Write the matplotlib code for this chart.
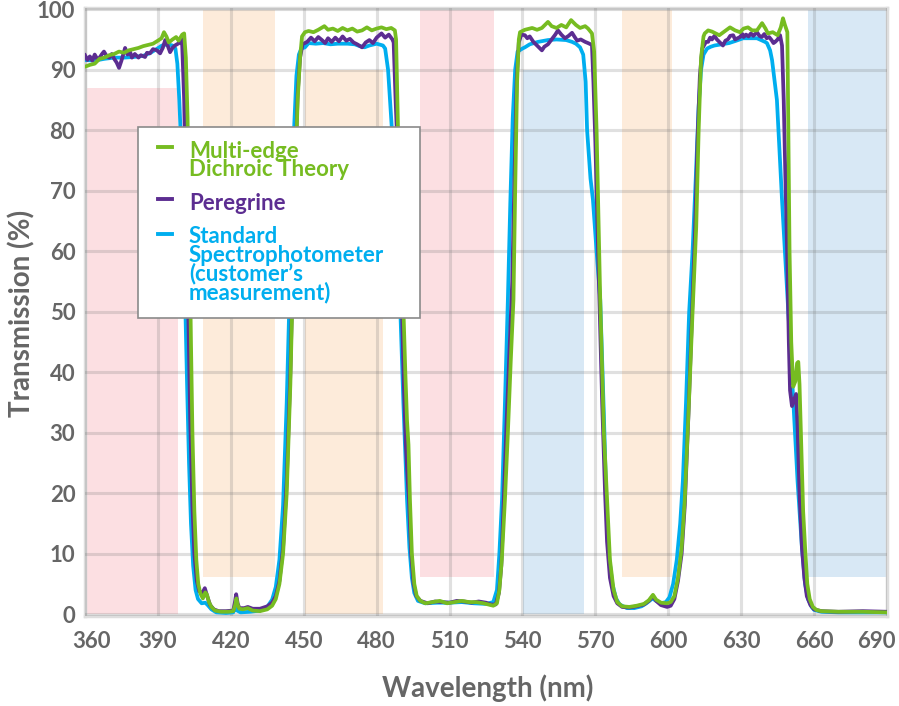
import matplotlib
matplotlib.use("Agg")
import matplotlib.pyplot as plt
from matplotlib.patches import Rectangle
from matplotlib.lines import Line2D
from matplotlib.transforms import ScaledTranslation

# ---------------- data ----------------
green_wl = [360, 362, 364, 366, 368, 370, 372, 374, 376, 378, 380, 382, 384, 386, 388, 390, 391.5, 392.5, 393.5, 394.5,
            396, 397.5, 398.5, 400, 400.8, 401.5, 402.2, 403, 403.6, 404.2, 405, 405.8, 406.6, 407.5, 408.5, 409.5,
            410.2, 411, 412, 413.5, 416, 419, 421, 421.8, 422.3, 422.8, 423.5, 425, 427, 429, 432, 435, 437, 438.5,
            440, 441.5, 443, 444.5, 445.5, 446.5, 447.5, 448.5, 449.3, 450.5, 452, 454, 456, 458.5, 460, 462, 464,
            466, 468, 470, 472, 474, 476, 478, 480, 482, 484, 486, 487.5, 488, 488.8, 490, 490.9, 491.8, 492.5, 493.1,
            493.7, 494.5, 495.5, 496.5, 498, 500, 503, 506, 509, 512, 515, 518, 521, 524, 526, 528, 529.5, 530.5,
            531.5, 532.8, 534, 535.2, 536.3, 537, 537.8, 538.5, 539, 541, 544, 546, 548, 550.5, 552, 554, 556, 558,
            560, 562, 563.7, 565.8, 567, 568.6, 569.5, 570.5, 572, 573.5, 574.8, 576, 577.5, 579, 581, 584, 587, 590,
            592, 593.7, 595, 597, 599.5, 601, 602.5, 604, 605.5, 606.8, 608.5, 610, 611.5, 612.5, 613.5, 614.5, 615,
            616.4, 618, 621, 623, 625.4, 627.5, 629.5, 631, 632.8, 634.5, 636.5, 638.6, 640, 641, 643, 645, 646.3,
            647.2, 648, 649, 649.4, 649.9, 650.6, 651.4, 652.3, 653.0, 653.5, 654.0, 654.8, 655.5, 656.3, 657.2,
            658.2, 659.5, 661, 663, 670, 680, 690]
green_t = [90.5, 90.8, 91.0, 91.8, 92.0, 92.4, 92.6, 93.0, 92.8, 93.2, 93.4, 93.6, 93.9, 94.1, 94.3, 94.8, 95.2, 96.2, 95.5, 94.5,
           95.0, 95.4, 94.8, 95.8, 96.0, 92, 82, 62, 45, 30, 17, 9, 5, 3.4, 2.6, 3.6,
           3.2, 2.0, 1.2, 0.6, 0.4, 0.4, 0.5, 1.5, 2.6, 1.6, 0.9, 0.8, 1.0, 0.6, 0.5, 0.8, 1.4, 2.5,
           5, 10, 20, 38, 55, 72, 85, 92, 95.5, 96.2, 96.4, 96.2, 96.6, 97.2, 96.6, 96.8, 96.4,
           96.9, 96.5, 96.8, 96.3, 96.5, 97.0, 96.5, 96.8, 97.0, 96.7, 96.9, 96.5, 95, 80, 65, 52, 40, 32, 28,
           19, 10, 5, 3, 2.2, 1.8, 2.0, 2.2, 1.8, 2.0, 2.2, 2.0, 2.0, 1.8, 1.6, 1.4, 1.8, 4,
           9, 19, 30, 42, 52, 70, 88, 95, 96.2, 96.6, 96.9, 96.6, 96.9, 97.9, 97.2, 96.9, 97.4, 97.0,
           98.2, 97.4, 96.9, 97.2, 96.8, 96.0, 93, 80, 52, 30, 19, 9, 4, 2, 1.3, 1.2, 1.4, 1.7,
           2.3, 3.2, 2.4, 1.9, 1.8, 2.0, 3, 6, 11, 19, 35, 50, 64, 80, 92, 95.5, 96,
           96.5, 96.3, 95.7, 96.3, 97, 96.5, 96.2, 96.8, 97, 96.5, 96.5, 97.7, 96.8, 96, 96.2, 95.7, 97,
           98.5, 97.4, 96.2, 80, 60, 45, 37.6, 38.5, 41.5, 41.7, 38, 27, 17, 11, 5,
           2.5, 1.2, 0.7, 0.5, 0.4, 0.4, 0.3]

purple_wl = [360, 361, 362, 363, 364, 365, 366, 367, 367.8, 369, 370, 371, 372, 373, 374, 375, 376.5, 377.5, 378.5,
             379.3, 380.5, 382, 383, 384.7, 385.5, 386.7, 388, 389.6, 390.9, 392, 393, 394, 395, 396, 397, 398.7,
             399.5, 400, 400.8, 401.6, 402.5, 403.3, 404.2, 405, 406, 407, 408.3, 409.3, 410.5, 411.5, 413, 415, 418,
             421, 421.7, 422.2, 422.8, 423.5, 425.5, 427, 429, 432, 435, 437, 438.5, 440, 441.5, 443, 444.5, 445.5,
             446.5, 447.5, 448.5, 449.5, 451.4, 453, 454.5, 456, 457.5, 458.8, 460, 461.5, 463, 464.5, 466, 467.5,
             469, 470.5, 472, 474, 475.5, 477, 478.5, 480, 482, 483.5, 485, 486.5, 487, 487.8, 488.5, 489.5, 490.3,
             491.2, 492, 492.8, 493.3, 494.2, 495.2, 496.3, 498, 501, 504, 507, 510, 513, 516, 519, 522, 525, 527,
             529, 530.3, 531.3, 532.3, 533.5, 534.8, 535.8, 536.7, 537.6, 538.5, 539.5, 541, 542, 543, 544.5, 546,
             547, 548, 549, 550.5, 552, 553.5, 554.6, 556, 557.5, 559, 560.4, 561.5, 562.5, 564, 565.8, 567, 568.6,
             569.2, 570, 571, 571.8, 572.8, 574, 574.8, 576, 577.5, 579, 581, 584, 587, 590, 592, 593.7, 595, 597,
             599.5, 601, 602.5, 604, 605.5, 606.8, 608.3, 609.8, 611, 612, 613, 614, 615.5, 616.4, 617.2, 618, 619,
             620, 621, 622.5, 623.5, 624.5, 625.5, 626.7, 627.5, 628.5, 629.5, 630.5, 631, 632, 633, 634, 635, 636.5,
             637.5, 638.5, 639.5, 640.5, 641.5, 642.5, 643.3, 644, 645, 646, 646.8, 647.5, 648.2, 648.9, 649.6, 650.1,
             650.9, 651.8, 652.6, 653.2, 654, 655, 656, 657, 658.5, 660, 663, 670, 680, 690]
purple_t = [92.4, 91.6, 92.2, 91.5, 92.5, 91.8, 92.0, 92.6, 93.0, 92.2, 92.0, 92.6, 91.8, 91.2, 90.3, 91.5, 93.6, 92.5, 93.0,
            92.0, 92.6, 92.0, 92.4, 92.1, 92.8, 92.7, 93.4, 93.2, 92.7, 93.6, 94.9, 94.0, 92.9, 93.6, 94.0, 94.4,
            95.2, 94.0, 85, 68, 50, 32, 18, 10, 5.5, 3.8, 3.5, 4.3, 2.7, 1.5, 0.8, 0.5, 0.5,
            0.6, 2, 3.3, 1.8, 1.0, 1.0, 1.2, 0.9, 0.9, 1.3, 1.9, 3, 5.5, 11, 22, 40, 57,
            73, 86, 92, 94.2, 94.6, 95.3, 94.7, 95.4, 94.9, 94.4, 95.2, 94.6, 95.3, 94.7, 95.5, 94.8,
            95.1, 94.5, 94.2, 93.7, 94.5, 94.9, 94.4, 95.3, 96.0, 95.3, 95.8, 95.0, 94.5, 85, 78, 65, 52,
            38, 28, 22, 19, 10, 5, 3, 2.2, 1.8, 2.1, 2.0, 1.9, 2.2, 2.1, 1.9, 2.1, 1.9, 1.6,
            1.6, 3.5, 8, 19, 32, 45, 55, 72, 88, 94.5, 95.8, 95.7, 95.2, 95.5, 94.6, 94.0,
            93.6, 93.2, 93.8, 94.2, 95.0, 95.8, 96.5, 95.8, 95.2, 95.6, 96.1, 95.4, 94.8, 95.0, 94.6, 94.4, 94.1,
            88, 78, 62, 50, 35, 20, 12, 6, 3, 1.8, 1.2, 1.1, 1.3, 1.6, 2.2, 3.0, 2.2, 1.5,
            1.2, 1.4, 2.5, 5.5, 10, 18, 33, 50, 63, 78, 89, 93.5, 94.6, 94.6, 95.3, 95.0, 95.6,
            95.0, 94.6, 94.0, 94.8, 95.0, 95.6, 95.7, 95.0, 95.2, 95.4, 95.9, 95.4, 95.8, 95.5, 96.0, 95.6, 96.2,
            95.6, 95.4, 95.9, 95.2, 95.4, 94.9, 94.4, 94.6, 95.0, 95.7, 94, 85, 72, 60, 45, 37,
            34.4, 35.5, 36.4, 31, 20, 11, 6, 3, 1.5, 0.8, 0.5, 0.4, 0.5, 0.4]

cyan_wl = [360, 364, 368, 372, 376, 380, 384, 387, 389, 391.7, 394, 396, 397.2, 398, 398.8, 399.5, 400.3, 401.2, 402,
           402.8, 403.6, 404.5, 405.5, 406.5, 408, 409.5, 410.5, 412, 414, 418, 421, 422, 422.6, 424, 428, 432, 435,
           437, 438.5, 440, 441.5, 443, 444, 445, 446, 447, 448, 449, 450.5, 452, 455, 458, 461, 464, 468, 471, 473,
           475, 477, 480, 482.6, 483.5, 484.7, 486.3, 488, 489.6, 491, 492.5, 493.5, 494.5, 495.5, 497, 500, 505,
           510, 515, 520, 525, 528, 529.5, 530.5, 531.6, 532.8, 534, 535, 536, 537, 538, 540, 541, 543, 546.4,
           550.5, 554, 558, 560.4, 562, 563.7, 565, 566, 566.6, 568, 569, 570.5, 572, 573.5, 574.5, 575.5, 577,
           578.5, 580, 583, 586, 589, 591, 593.5, 595, 597, 599, 600.5, 602, 603.5, 604.9, 606, 607.3, 608.6, 610,
           611.3, 612.5, 613.5, 614.5, 616, 617.5, 619, 622, 625, 628, 630.8, 634, 636.5, 639.8, 640.6, 641.9,
           642.7, 644.7, 646.8, 648, 649.7, 651.4, 653.2, 655, 656.3, 657.5, 659, 660, 663, 670, 690]
cyan_t = [91.6, 91.5, 91.8, 92.0, 92.0, 92.1, 92.3, 92.8, 93.3, 94.0, 94.2, 94.0, 93.5, 91, 85, 78, 68, 52, 38,
          25, 15, 8, 4, 2.5, 1.8, 1.9, 1.5, 0.8, 0.3, 0.2, 0.3, 1.2, 0.6, 0.3, 0.4, 0.6, 1.2,
          2.4, 4.5, 9, 18, 35, 50, 65, 80, 89, 92.5, 93.5, 93.7, 94.4, 94.3, 94.4, 94.2, 94.3, 94.3, 94.2, 93.9,
          93.7, 94.0, 94.3, 94.0, 93.5, 90, 80, 66, 52, 35, 19, 11, 6, 3.5, 2.2, 1.8, 1.9,
          1.9, 2.0, 1.8, 1.7, 2.0, 4, 10, 19, 35, 52, 68, 82, 90, 93, 93.5, 93.7, 94.2, 94.6,
          94.9, 95.0, 94.9, 94.6, 94.3, 93.7, 92.5, 88, 80, 72, 68.5, 60, 52, 33, 19, 10, 5,
          2.6, 1.6, 1.0, 1.0, 1.3, 1.8, 2.6, 2.2, 1.8, 2.0, 2.8, 5, 9, 15, 22, 35, 50, 60,
          72, 84, 90, 92.5, 93.5, 93.8, 94.0, 94.2, 94.4, 94.8, 95.2, 95.2, 95.2, 94.6, 94.4, 93.2,
          91.6, 85, 68.5, 60, 48, 35.6, 22, 11, 5, 2.5, 1.2, 0.7, 0.4, 0.3, 0.3]

series_names = ["Multi-edge\nDichroic Theory", "Peregrine",
                "Standard\nSpectrophotometer\n(customer\u2019s\nmeasurement)"]
series_colors = ["#76bc21", "#5c2d91", "#00aeef"]

# shaded bands: (start nm, end nm, low %, high %, color)
band_start = [360, 408.6, 450.5, 497.9, 540.2, 581.0, 657.5]
band_end = [398.3, 438.2, 482.6, 528.3, 565.3, 601.6, 690.0]
band_low = [0, 6.2, 0, 6.2, 0, 6.2, 6.2]
band_high = [87, 100.5, 90, 100.5, 90, 100.5, 100.5]
band_color = ["#fcdfe2", "#fdebda", "#fdebda", "#fcdfe2", "#d8e8f5", "#fdebda", "#d8e8f5"]

x_ticks = list(range(360, 691, 30))
y_ticks = list(range(0, 101, 10))

# ---------------- figure ----------------
plt.rcParams['font.family'] = ['Lato', 'DejaVu Sans']
fig = plt.figure(figsize=(8.99, 7.06), dpi=100)
ax = fig.add_axes([85 / 899, 90 / 706, 802 / 899, 608 / 706])

for s, e, lo, hi, c in zip(band_start, band_end, band_low, band_high, band_color):
    ax.fill_between([s, e], [lo, lo], [hi, hi], color=c, lw=0, zorder=1)

ax.set_xlim(360, 690)
ax.set_ylim(-0.3, 100.2)
ax.set_xticks(x_ticks)
ax.set_yticks(y_ticks)
ax.grid(True, color=(0.45, 0.45, 0.45), alpha=0.22, lw=2.2, zorder=2)
ax.set_axisbelow(False)
for sp in ax.spines.values():
    sp.set_color("#dedede")
    sp.set_linewidth(2.5)
    sp.set_zorder(2.5)

ax.tick_params(length=0, labelsize=16, labelcolor="#666666", pad=7)
ax.tick_params(axis='x', pad=11)
for lab in ax.get_xticklabels() + ax.get_yticklabels():
    lab.set_fontweight('bold')
xl = ax.get_xticklabels()
xl[0].set_transform(xl[0].get_transform() + ScaledTranslation(6 / 100, 0, fig.dpi_scale_trans))
xl[-1].set_transform(xl[-1].get_transform() + ScaledTranslation(-11 / 100, 0, fig.dpi_scale_trans))

lw = 2.7
ax.plot(cyan_wl, cyan_t, color=series_colors[2], lw=lw, zorder=3, solid_joinstyle='round')
ax.plot(purple_wl, purple_t, color=series_colors[1], lw=lw, zorder=4, solid_joinstyle='round')
ax.plot(green_wl, green_t, color=series_colors[0], lw=lw, zorder=5, solid_joinstyle='round')

fig.text(0.542, 0.025, "Wavelength (nm)", ha='center', va='center', fontsize=20,
         fontweight='bold', color="#666666")
fig.text(0.024, 0.556, "Transmission (%)", ha='center', va='center', fontsize=20,
         fontweight='bold', color="#666666", rotation=90)

# legend box (manual to keep handles on the first text line)
box = Rectangle((0.0661, 0.4901), 0.4177 - 0.0661, 0.8043 - 0.4901, transform=ax.transAxes,
                facecolor='white', edgecolor='#8a8a8a', lw=1.2, zorder=10)
ax.add_patch(box)
text_tops = [0.782, 0.695, 0.641]
handle_y = [0.771, 0.686, 0.628]
for name, col, ty, hy in zip(series_names, series_colors, text_tops, handle_y):
    ax.add_line(Line2D([0.091, 0.1085], [hy, hy], transform=ax.transAxes, color=col, lw=2.8, zorder=11))
    ax.text(0.1297, ty, name, transform=ax.transAxes, ha='left', va='top', fontsize=16,
            fontweight='bold', color=col, linespacing=0.84, zorder=11)

fig.savefig("out.png", dpi=100)
